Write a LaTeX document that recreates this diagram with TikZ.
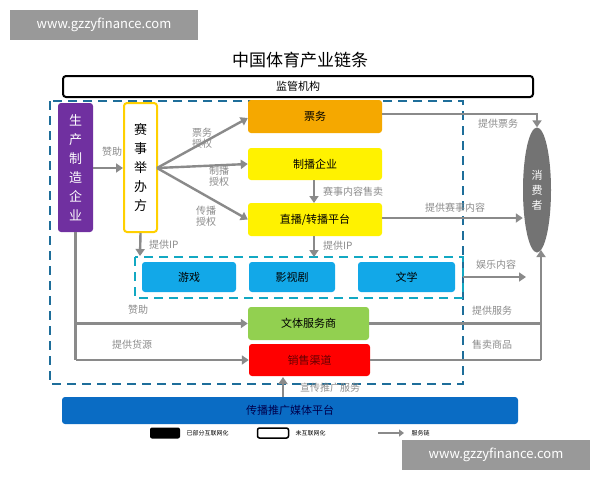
\documentclass[tikz,border=0pt]{standalone}
\usepackage{fontspec}
\setmainfont{Noto Sans CJK SC}
\usetikzlibrary{arrows.meta,shapes.geometric}
\definecolor{arr}{HTML}{8A8A8A}
\definecolor{lbl}{HTML}{8C8C8C}
\definecolor{dashblue}{HTML}{1E6E9A}
\definecolor{purp}{HTML}{7030A0}
\definecolor{ltblue}{HTML}{12A8E8}
\definecolor{medblue}{HTML}{0A6CC4}
\definecolor{grn}{HTML}{92D050}
\definecolor{org}{HTML}{F5A800}
\definecolor{yel}{HTML}{FFF200}
\tikzset{
 box/.style={draw=none,rounded corners=3pt,minimum height=32pt,font=\fontsize{11}{12}\selectfont,inner sep=0},
 vbox/.style={box,minimum height=129pt,align=center,font=\fontsize{13}{19}\selectfont},
 ar/.style={draw=arr,line width=2.4pt,-{Triangle[length=7pt,width=9pt]}},
 ln/.style={draw=arr,line width=2.4pt},
 lb/.style={text=lbl,font=\fontsize{10}{11}\selectfont,inner sep=1pt,align=center},
 wm/.style={fill=black!40,text=white,font=\fontsize{13}{14}\selectfont,minimum width=188pt,minimum height=30pt,inner sep=0}
}
\begin{document}
\begin{tikzpicture}[x=1pt,y=-1pt]
\useasboundingbox[fill=white] (0,0) rectangle (600,480);
\node[wm] (wm1) at (104,25) {www.gzzyfinance.com};
\node[font=\fontsize{17}{18}\selectfont] (title) at (300,60) {中国体育产业链条};
\node[draw=black,line width=2pt,rounded corners=3pt,minimum width=470pt,minimum height=21pt,inner sep=0,font=\fontsize{11}{12}\selectfont] (jg) at (298,86.5) {监管机构};
\draw[dashblue,line width=2pt,dash pattern=on 9pt off 6pt] (50,101) rectangle (463,384);
\node[vbox,fill=purp,text=white,minimum width=35pt] (sc) at (75.5,167.5) {生\\产\\制\\造\\企\\业};
\node[vbox,draw=yel!70!orange,line width=2pt,fill=white,minimum width=33pt] (ss) at (140.5,167.5) {赛\\事\\举\\办\\方};
\node[box,fill=org,minimum width=134pt,minimum height=33pt] (pw) at (315,116.5) {票务};
\node[box,fill=yel,minimum width=134pt] (zb) at (315,164) {制播企业};
\node[box,fill=yel,minimum width=134pt,minimum height=33pt] (zh) at (315,219.5) {直播/转播平台};
\draw[dashblue!60!cyan,line width=2pt,dash pattern=on 9pt off 6pt] (135,257) rectangle (463,298);
\node[box,fill=ltblue,minimum width=94pt,minimum height=30pt] (yx) at (189,277) {游戏};
\node[box,fill=ltblue,minimum width=86pt,minimum height=30pt] (ys) at (292,277) {影视剧};
\node[box,fill=ltblue,minimum width=97pt,minimum height=30pt] (wx) at (406.5,277) {文学};
\coordinate (inr) at (463,277);
\node[box,fill=grn,minimum width=121pt,minimum height=33pt] (wt) at (308.5,323.5) {文体服务商};
\node[box,fill=red,text=red!40!black,minimum width=121pt] (xs) at (309.5,360) {销售渠道};
\node[box,fill=medblue,text=blue!30!black,minimum width=456pt,minimum height=27pt] (mt) at (290,410.5) {传播推广媒体平台};
\node[ellipse,fill=black!55,text=white,minimum width=28pt,minimum height=125pt,inner sep=0,align=center,font=\fontsize{11}{15}\selectfont] (xf) at (537,190) {消\\费\\者};
% arrows
\draw[ar] (sc.east |- 0,168) -- (ss.west |- 0,168);
\node[lb] (l1) at (112,152) {赞助};
\draw[ar] (157,168) -- (pw.west |- 0,118);
\draw[ar] (157,168) -- (zb.west);
\draw[ar] (157,168) -- (zh.west);
\node[lb] (l2) at (202,138) {票务\\授权};
\node[lb] (l3) at (219,176) {制播\\授权};
\node[lb] (l4) at (206,216) {传播\\授权};
\draw[ar] (ss.south) -- (140,256);
\node[lb,anchor=west] (l5) at (148,245) {提供IP};
\draw[ar] (zb.south -| 314,0) -- (314,203);
\node[lb,anchor=west] (l6) at (322,192) {赛事内容售卖};
\draw[ar] (zh.south -| 314,0) -- (314,257);
\node[lb,anchor=west] (l7) at (322,246) {提供IP};
\draw[ar] (pw.east |- 0,114) -| (xf.north);
\node[lb] (l8) at (498,124) {提供票务};
\draw[ar] (zh.east |- 0,218) -- (xf.west |- 0,218);
\node[lb] (l9) at (455,208) {提供赛事内容};
\draw[ar] (inr) -- (526,277);
\node[lb] (l10) at (496,265) {娱乐内容};
\draw[ln] (wt.east) -- (541,323.5);
\draw[ln] (xs.east) -- (541,360);
\draw[ar] (541,360) -- (541,250);
\node[lb] (l11) at (492,311) {提供服务};
\node[lb] (l12) at (492,345) {售卖商品};
\draw[ln] (sc.south) -- (75.5,360);
\draw[ar] (75.5,323.5) -- (wt.west);
\draw[ar] (75.5,360) -- (xs.west);
\node[lb] (l13) at (138,310) {赞助};
\node[lb] (l14) at (132,345) {提供货源};
\draw[ar] (mt.north -| 283,0) -- (283,377);
\node[lb] (l15) at (330,388) {宣传推广服务};
% legend
\node[fill=black,rounded corners=2pt,minimum width=30pt,minimum height=11pt,inner sep=0] (lg1) at (165,433) {};
\node[font=\fontsize{6}{7}\selectfont,anchor=west] (lg1t) at (183,433) {已部分互联网化};
\node[draw=black,line width=1.5pt,rounded corners=2pt,minimum width=31pt,minimum height=10pt,inner sep=0] (lg2) at (273,433) {};
\node[font=\fontsize{6}{7}\selectfont,anchor=west] (lg2t) at (292,433) {未互联网化};
\coordinate (la) at (378,433);
\coordinate (lb2) at (404,433);
\draw[draw=arr,line width=2pt,-{Triangle[length=5pt,width=7pt]}] (la) -- (lb2);
\node[font=\fontsize{6}{7}\selectfont,anchor=west] (lg3t) at (408,433) {服务链};
\node[wm] (wm2) at (496,455) {www.gzzyfinance.com};
\end{tikzpicture}
\end{document}
